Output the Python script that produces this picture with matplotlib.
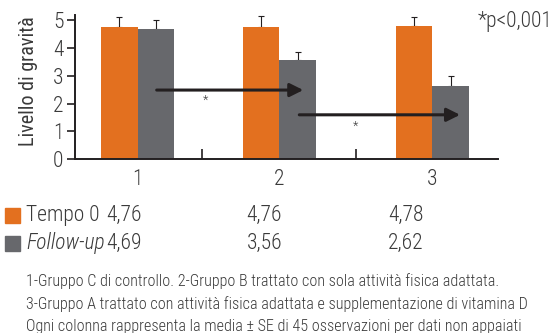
import matplotlib
matplotlib.use("Agg")
import matplotlib.pyplot as plt
import numpy as np

plt.rcParams['font.family'] = ['Roboto Condensed', 'DejaVu Sans']
plt.rcParams['font.weight'] = 300

# Livello di gravità per gruppo, tempo 0 e follow-up
groups = ['1', '2', '3']
tempo0 = [4.76, 4.76, 4.78]
followup = [4.69, 3.56, 2.62]
se_tempo0 = [0.36, 0.38, 0.35]
se_followup = [0.33, 0.30, 0.36]
tempo0_labels = ['4,76', '4,76', '4,78']
followup_labels = ['4,69', '3,56', '2,62']

orange = '#e3701f'
grey = '#67686c'
ink = '#231f20'
txt = '#3a3a3a'

W, H = 555, 333
fig = plt.figure(figsize=(W / 100, H / 100), dpi=100)
ax = fig.add_axes([74.7 / W, 1 - 159.3 / H, 423 / W, 144.6 / H])

pos = np.array([1.0, 2.0, 3.08])
bw = 0.259
ax.bar(pos - bw / 2, tempo0, bw, color=orange, zorder=2)
ax.bar(pos + bw / 2, followup, bw, color=grey, zorder=2)
ax.errorbar(pos - bw / 2, tempo0, yerr=[np.zeros(3), se_tempo0], fmt='none',
            ecolor=ink, elinewidth=0.8, capsize=2.4, capthick=0.8, zorder=1)
ax.errorbar(pos + bw / 2, followup, yerr=[np.zeros(3), se_followup], fmt='none',
            ecolor=ink, elinewidth=0.8, capsize=2.4, capthick=0.8, zorder=1)

# frecce di confronto tra gruppi con asterisco
arrows = [(1.134, 2.169, 2.49), (2.141, 3.276, 1.60)]
stars = [(1.48, 2.13), (2.537, 1.20)]
for x0, x1, y in arrows:
    ax.annotate('', xy=(x1, y), xytext=(x0, y),
                arrowprops=dict(arrowstyle='-|>', lw=2.2, color=ink,
                                mutation_scale=20, shrinkA=0, shrinkB=0),
                zorder=3)
for x, y in stars:
    ax.text(x, y, '*', ha='center', va='center', fontsize=9, color=txt)

ax.set_xlim(0.555, 3.542)
ax.set_ylim(0, 5.2)
ax.set_yticks(range(6))
ax.set_xticks(pos)
ax.set_xticklabels(groups)
ax.set_xticks([1.452, 2.544], minor=True)
ax.tick_params(axis='x', which='major', length=0, pad=7, labelsize=15.5, labelcolor=txt)
ax.tick_params(axis='x', which='minor', direction='in', length=7.5, width=1.2, color=ink)
ax.tick_params(axis='y', direction='out', length=6, width=1.2, color=ink,
               labelsize=15.5, labelcolor=txt, pad=2)
for s in ['top', 'right']:
    ax.spines[s].set_visible(False)
for s in ['left', 'bottom']:
    ax.spines[s].set_linewidth(1.4)
    ax.spines[s].set_color(ink)
ax.set_ylabel('Livello di gravità', fontsize=14.5, color=txt, va='center')
ax.yaxis.set_label_coords(-46 / 423, 0.54)

fig.text(478 / W, 1 - 22 / H, '*p<0,001', fontsize=15.5, color=txt, va='center', ha='left')

# tabella valori sotto il grafico
def fx(x):
    return x / W

def fy(y):
    return 1 - y / H

rows = [(215.5, orange, 'Tempo 0', 'normal', tempo0_labels),
        (243.5, grey, 'Follow-up', 'italic', followup_labels)]
for y, c, name, style, vals in rows:
    fig.patches.append(plt.Rectangle((fx(5), fy(y + 7.5)), 15 / W, 15 / H,
                                     transform=fig.transFigure, color=c))
    fig.text(fx(26), fy(y), name, fontsize=15.5, style=style, color=txt, va='center')
    for xv, v in zip([106.5, 246.5, 388], vals):
        fig.text(fx(xv), fy(y), v, fontsize=15.5, color=txt, va='center')

notes = ['1-Gruppo C di controllo. 2-Gruppo B trattato con sola attività fisica adattata.',
         '3-Gruppo A trattato con attività fisica adattata e supplementazione di vitamina D',
         'Ogni colonna rappresenta la media ± SE di 45 osservazioni per dati non appaiati']
for y, line in zip([281.5, 304.5, 326.5], notes):
    fig.text(fx(26), fy(y), line, fontsize=11.6, color=txt, va='center')

fig.savefig('out.png', dpi=100)
